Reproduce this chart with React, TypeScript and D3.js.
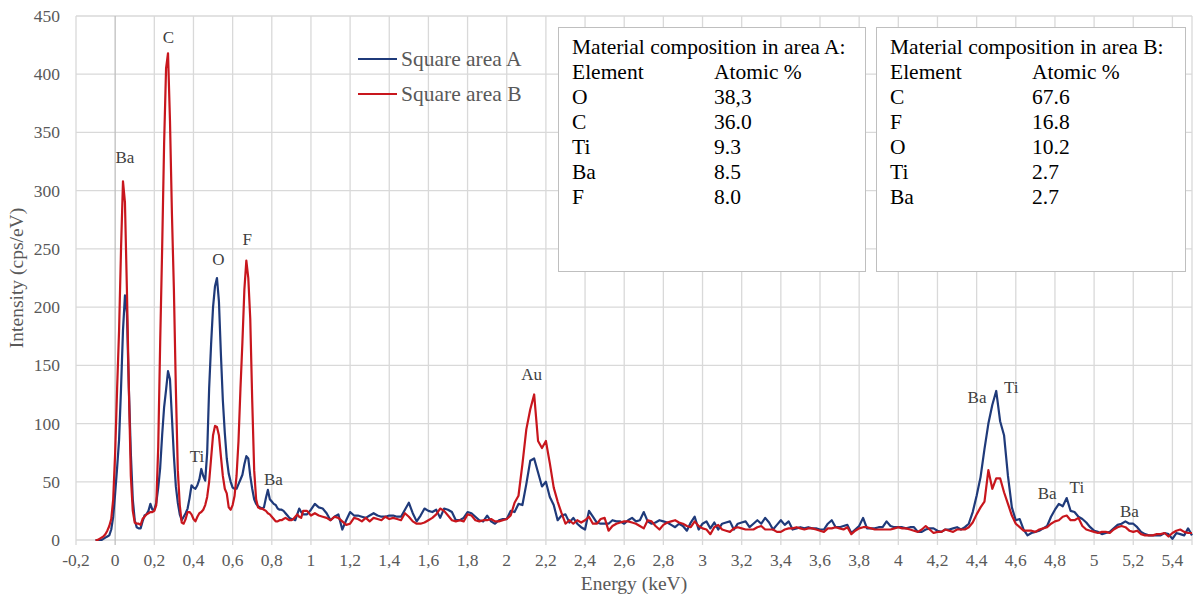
import * as d3 from "d3";
import { useEffect, useRef } from "react";

// energy channels in keV: 0.01 steps up to 0.95, then 0.02 steps up to 5.5
const energyLow = d3.range(-10, 96).map((i) => i / 100);
const energyHigh = d3.range(48, 276).map((i) => i / 50);
const energy = [...energyLow, ...energyHigh];

// Square area A (cps/eV)
const areaALow = [
  0, 0, 0, 0, 1, 2, 3, 4, 9, 20,
  40, 62, 86, 130, 180, 210, 195, 130, 75, 35,
  17, 11, 10, 10, 16, 21, 22, 25, 31, 26,
  26, 32, 45, 62, 90, 114, 129, 145, 138, 105,
  72, 46, 32, 22, 17, 20, 23, 27, 36, 47,
  45, 44, 47, 52, 61, 55, 51, 75, 130, 168,
  200, 218, 225, 205, 160, 120, 92, 70, 57, 50,
  45, 44, 44, 48, 52, 56, 65, 72, 70, 55,
  44, 35, 31, 29, 28, 27, 28, 36, 43, 35,
  33, 31, 30, 27, 26, 26, 25, 23, 21, 19,
  18, 18, 17, 22, 27, 24,
];
const areaAHigh = [
  22, 22, 26, 31, 28, 27, 23, 17, 20, 22,
  9, 17, 24, 21, 21, 20, 19, 21, 23, 21,
  20, 20, 21, 21, 20, 20, 26, 32, 23, 16,
  21, 27, 25, 24, 26, 19, 27, 26, 24, 17,
  17, 19, 24, 23, 20, 17, 16, 21, 16, 14,
  17, 18, 18, 25, 24, 31, 30, 48, 68, 70,
  58, 46, 50, 37, 30, 17, 21, 22, 15, 19,
  14, 11, 9, 25, 20, 15, 14, 14, 14, 17,
  16, 16, 14, 17, 19, 16, 17, 24, 16, 14,
  15, 17, 16, 15, 13, 11, 14, 12, 8, 15,
  20, 9, 14, 16, 10, 15, 9, 14, 15, 16,
  9, 14, 15, 16, 11, 14, 17, 14, 19, 15,
  9, 13, 17, 13, 16, 9, 10, 11, 10, 11,
  10, 10, 9, 9, 14, 17, 11, 11, 12, 13,
  6, 9, 12, 19, 10, 10, 10, 11, 11, 16,
  12, 11, 11, 11, 10, 11, 11, 7, 7, 9,
  10, 10, 8, 7, 9, 9, 10, 11, 9, 11,
  14, 24, 38, 54, 78, 100, 116, 128, 102, 90,
  55, 28, 17, 18, 9, 4, 6, 7, 8, 10,
  12, 20, 26, 31, 29, 36, 25, 24, 20, 18,
  15, 11, 8, 7, 5, 6, 7, 10, 13, 14,
  16, 14, 14, 11, 7, 5, 4, 4, 4, 4,
  6, 5, 1, 6, 5, 4, 10, 4,
];

// Square area B (cps/eV)
const areaBLow = [
  0, 0, 1, 2, 3, 5, 8, 12, 18, 35,
  75, 130, 180, 250, 308, 290, 215, 130, 55, 25,
  15, 14, 14, 13, 18, 20, 22, 23, 24, 24,
  25, 30, 80, 170, 250, 340, 405, 418, 360, 280,
  215, 130, 60, 30, 15, 14, 18, 24, 24, 22,
  18, 16, 20, 23, 24, 26, 30, 37, 50, 70,
  90, 98, 97, 90, 72, 55, 44, 40, 28, 26,
  30, 38, 55, 85, 130, 170, 215, 240, 225, 190,
  120, 60, 35, 28, 27, 27, 26, 25, 23, 22,
  20, 18, 16, 16, 17, 17, 18, 19, 18, 17,
  17, 18, 20, 22, 20, 19,
];
const areaBHigh = [
  25, 25, 21, 23, 21, 20, 19, 17, 20, 19,
  16, 13, 14, 19, 18, 16, 19, 16, 19, 18,
  17, 20, 18, 19, 18, 17, 23, 20, 16, 14,
  14, 15, 17, 19, 22, 27, 25, 21, 17, 16,
  17, 16, 22, 21, 17, 16, 17, 17, 18, 16,
  16, 17, 18, 21, 32, 38, 65, 95, 112, 125,
  85, 79, 85, 66, 45, 33, 23, 14, 17, 14,
  17, 15, 17, 20, 14, 14, 18, 19, 8, 12,
  14, 15, 16, 16, 15, 14, 12, 10, 17, 16,
  12, 9, 13, 15, 16, 17, 15, 14, 12, 11,
  16, 12, 10, 9, 5, 11, 13, 9, 8, 7,
  10, 11, 10, 9, 9, 9, 11, 12, 9, 9,
  9, 7, 7, 9, 10, 10, 11, 10, 9, 10,
  10, 9, 8, 7, 10, 10, 11, 10, 9, 11,
  5, 8, 10, 11, 11, 10, 9, 9, 9, 9,
  9, 10, 11, 10, 10, 9, 8, 7, 9, 12,
  9, 6, 7, 7, 9, 8, 7, 9, 9, 9,
  11, 15, 22, 28, 33, 60, 44, 53, 53, 41,
  31, 21, 14, 11, 8, 8, 8, 7, 9, 10,
  11, 14, 16, 17, 20, 21, 17, 17, 19, 12,
  9, 8, 7, 6, 7, 7, 6, 9, 11, 12,
  11, 8, 7, 8, 5, 4, 4, 4, 5, 5,
  6, 3, 6, 8, 9, 7, 6, 6,
];

const areaA = [...areaALow, ...areaAHigh];
const areaB = [...areaBLow, ...areaBHigh];

const xTicks = d3.range(-1, 28).map((i) => i / 5);
const yTicks = d3.range(0, 451, 50);

// element labels: [text, energy, intensity]
const peakLabels = [
  ["Ba", 0.05, 324],
  ["C", 0.272, 427],
  ["O", 0.527, 236],
  ["F", 0.675, 253],
  ["Ti", 0.418, 67],
  ["Ba", 0.808, 47],
  ["Au", 2.127, 137],
  ["Ba", 4.402, 118],
  ["Ti", 4.577, 126],
  ["Ba", 4.76, 35],
  ["Ti", 4.912, 40],
  ["Ba", 5.18, 20],
];

const compositionA = [
  ["O", "38,3"],
  ["C", "36.0"],
  ["Ti", "9.3"],
  ["Ba", "8.5"],
  ["F", "8.0"],
];
const compositionB = [
  ["C", "67.6"],
  ["F", "16.8"],
  ["O", "10.2"],
  ["Ti", "2.7"],
  ["Ba", "2.7"],
];

const series = [
  { name: "Square area A", values: areaA, color: "#1f3a7a" },
  { name: "Square area B", values: areaB, color: "#c8161d" },
];

const App = () => {
  const ref = useRef(null);

  useEffect(() => {
    document.body.style.margin = "0";
    d3.select(ref.current).select("svg").remove();

    const W = 1195,
      H = 598;
    const font = "'Liberation Serif', 'Times New Roman', serif";

    const svg = d3
      .select(ref.current)
      .append("svg")
      .attr("width", W)
      .attr("height", H)
      .style("display", "block")
      .style("font-family", font);

    svg.append("rect").attr("width", W).attr("height", H).attr("fill", "#fff");

    const x = d3.scaleLinear().domain([-0.2, 5.5]).range([76, 1192]);
    const y = d3.scaleLinear().domain([0, 450]).range([540, 16]);

    // gridlines
    const grid = svg.append("g");
    grid
      .selectAll("line.h")
      .data(yTicks)
      .join("line")
      .attr("x1", x(-0.2))
      .attr("x2", x(5.5))
      .attr("y1", (d) => y(d))
      .attr("y2", (d) => y(d))
      .attr("stroke", "#d9d9d9")
      .attr("stroke-width", 1.3);
    grid
      .selectAll("line.v")
      .data([...xTicks, 5.5])
      .join("line")
      .attr("x1", (d) => x(d))
      .attr("x2", (d) => x(d))
      .attr("y1", y(450))
      .attr("y2", y(0) + 5)
      .attr("stroke", (d) => (d === 0 ? "#bfbfbf" : "#d9d9d9"))
      .attr("stroke-width", 1.3);

    // tick labels
    svg
      .append("g")
      .selectAll("text")
      .data(yTicks)
      .join("text")
      .attr("x", 60)
      .attr("y", (d) => y(d) + 6)
      .attr("text-anchor", "end")
      .attr("font-size", 17.5)
      .attr("fill", "#595959")
      .text((d) => d);

    svg
      .append("g")
      .selectAll("text")
      .data(xTicks)
      .join("text")
      .attr("x", (d) => x(d))
      .attr("y", 566)
      .attr("text-anchor", "middle")
      .attr("font-size", 17.5)
      .attr("fill", "#595959")
      .text((d) => String(Math.round(d * 10) / 10).replace(".", ","));

    // axis titles
    svg
      .append("text")
      .attr("x", (x(-0.2) + x(5.5)) / 2)
      .attr("y", 590)
      .attr("text-anchor", "middle")
      .attr("font-size", 19.5)
      .attr("fill", "#595959")
      .text("Energy (keV)");
    svg
      .append("text")
      .attr("transform", `translate(23, ${(y(0) + y(450)) / 2}) rotate(-90)`)
      .attr("text-anchor", "middle")
      .attr("font-size", 19.5)
      .attr("fill", "#595959")
      .text("Intensity (cps/eV)");

    // spectra
    const line = d3
      .line()
      .x((d, i) => x(energy[i]))
      .y((d) => y(d));

    svg
      .append("g")
      .selectAll("path")
      .data(series)
      .join("path")
      .attr("d", (s) => line(s.values))
      .attr("fill", "none")
      .attr("stroke", (s) => s.color)
      .attr("stroke-width", 2.2)
      .attr("stroke-linejoin", "round");

    // peak labels
    svg
      .append("g")
      .selectAll("text")
      .data(peakLabels)
      .join("text")
      .attr("x", (d) => x(d[1]))
      .attr("y", (d) => y(d[2]))
      .attr("text-anchor", "middle")
      .attr("font-size", 17)
      .attr("fill", "#404040")
      .text((d) => d[0]);

    // legend
    const legend = svg
      .append("g")
      .selectAll("g")
      .data(series)
      .join("g")
      .attr("transform", (d, i) => `translate(358, ${59 + i * 35})`);
    legend
      .append("line")
      .attr("x1", 0)
      .attr("x2", 39)
      .attr("stroke", (d) => d.color)
      .attr("stroke-width", 2.2);
    legend
      .append("text")
      .attr("x", 43)
      .attr("y", 7)
      .attr("font-size", 21.5)
      .attr("fill", "#595959")
      .text((d) => d.name);

    // composition boxes
    const boxes = [
      { title: "Material composition in area A:", rows: compositionA, x0: 558, x1: 865 },
      { title: "Material composition in area B:", rows: compositionB, x0: 876, x1: 1185 },
    ];
    boxes.forEach((b) => {
      const g = svg.append("g");
      g.append("rect")
        .attr("x", b.x0 + 0.5)
        .attr("y", 27.5)
        .attr("width", b.x1 - b.x0)
        .attr("height", 244)
        .attr("fill", "#fff")
        .attr("stroke", "#bfbfbf");
      const lines = [[b.title, ""], ["Element", "Atomic %"], ...b.rows];
      lines.forEach((r, i) => {
        g.append("text")
          .attr("x", b.x0 + 14)
          .attr("y", 54 + i * 25)
          .attr("font-size", 21.5)
          .attr("fill", "#000")
          .text(r[0]);
        if (r[1])
          g.append("text")
            .attr("x", b.x0 + 156)
            .attr("y", 54 + i * 25)
            .attr("font-size", 21.5)
            .attr("fill", "#000")
            .text(r[1]);
      });
    });
  }, []);

  return <div ref={ref} />;
};

export default App;
